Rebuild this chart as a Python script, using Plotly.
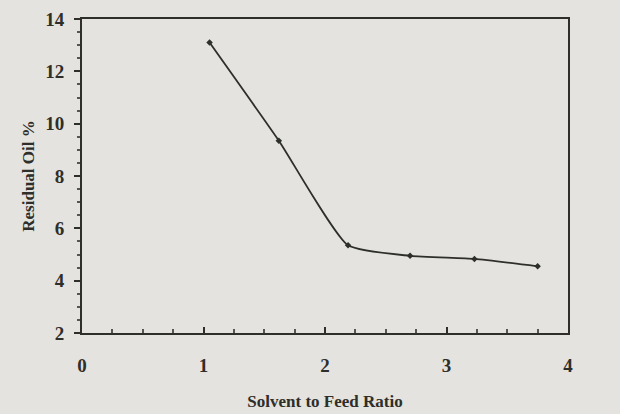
import plotly.graph_objects as go

# Data
solvent_ratio = [1.05, 1.62, 2.19, 2.70, 3.23, 3.75]
residual_oil = [13.1, 9.35, 5.35, 4.95, 4.83, 4.55]

x_ticks = [0, 1, 2, 3, 4]
y_ticks = [2, 4, 6, 8, 10, 12, 14]

BG = "#e4e3df"
INK = "#2e2e2a"

fig = go.Figure()
fig.add_trace(go.Scatter(
    x=solvent_ratio, y=residual_oil,
    mode="lines+markers",
    line=dict(color=INK, width=1.8, shape="spline", smoothing=0.5),
    marker=dict(symbol="diamond", size=5, color=INK),
    showlegend=False,
))

font = dict(family="Liberation Serif, DejaVu Serif, serif", color=INK)
fig.update_layout(
    width=620, height=414,
    margin=dict(l=82, r=52, t=19, b=81),
    paper_bgcolor=BG,
    plot_bgcolor=BG,
    font=dict(**font, size=19),
)
fig.update_xaxes(
    range=[0, 4], tickvals=x_ticks, ticktext=[f"<b>{v}</b>" for v in x_ticks],
    showgrid=False, zeroline=False, automargin=False,
    showline=True, linecolor=INK, linewidth=1.8, mirror=True,
    ticks="inside", ticklen=6, tickcolor=INK, tickwidth=1.5,
    minor=dict(ticks="inside", ticklen=4, dtick=0.25, tickcolor="#555"),
    ticklabelstandoff=14,
    title=dict(text="<b>Solvent to Feed Ratio</b>", font=dict(**font, size=17), standoff=20),
)
fig.update_yaxes(
    range=[2, 14], tickvals=y_ticks, ticktext=[f"<b>{v}</b>" for v in y_ticks],
    showgrid=False, zeroline=False, automargin=False,
    showline=True, linecolor=INK, linewidth=1.8, mirror=True,
    ticks="outside", ticklen=6, tickcolor=INK, tickwidth=1.5,
    minor=dict(ticks="outside", ticklen=3, dtick=0.5, tickcolor="#555"),
    ticklabelstandoff=6,
    title=dict(text="<b>Residual Oil %</b>", font=dict(**font, size=17), standoff=6),
)

fig.write_html(
    "out.html",
    config={"displayModeBar": False},
    post_script="document.body.style.margin='0';document.body.style.background='" + BG + "';",
)
